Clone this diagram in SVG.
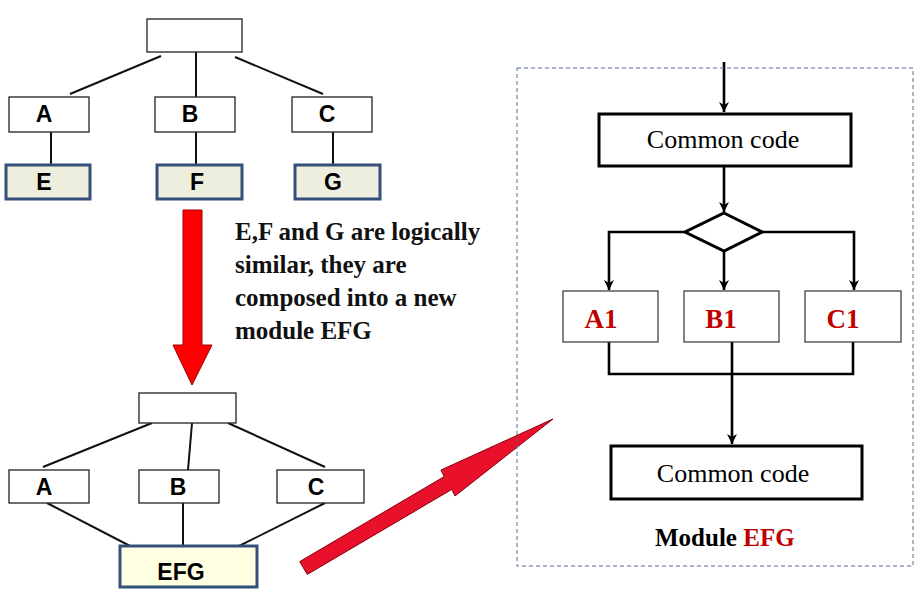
<svg xmlns="http://www.w3.org/2000/svg" width="915" height="594" viewBox="0 0 915 594">
<defs>
<style>
.box{fill:#fff;stroke:#222;stroke-width:1.3}
.mod{fill:#EEEEDF;stroke:#34507A;stroke-width:3}
.efg{fill:#FFFFE2;stroke:#34507A;stroke-width:3}
.fb{fill:#fff;stroke:#000;stroke-width:3}
.sb{fill:#fff;stroke:#333;stroke-width:1.2}
.ln{stroke:#111;stroke-width:2;fill:none}
.fl{stroke:#000;stroke-width:2.6;fill:none}
.sans{font-family:"Liberation Sans",Arial,sans-serif;font-weight:bold;font-size:23px;fill:#000;text-anchor:middle}
.serb{font-family:"Liberation Serif","Times New Roman",serif;font-weight:bold}
.ser{font-family:"Liberation Serif","Times New Roman",serif;font-size:26px;fill:#000;text-anchor:middle}
.red{fill:#C00000}
</style>
<marker id="ah" viewBox="0 0 10 12" refX="10" refY="6" markerWidth="10" markerHeight="12" markerUnits="userSpaceOnUse" orient="auto">
<path d="M0,1 L10,6 L0,11 L3,6 z" fill="#000"/>
</marker>
</defs>
<rect width="915" height="594" fill="#fff"/>

<g id="connectors">
<line class="ln" x1="161" y1="56" x2="70" y2="94"/>
<line class="ln" x1="196" y1="52" x2="196" y2="97"/>
<line class="ln" x1="235" y1="57" x2="323" y2="94"/>
<line class="ln" x1="51" y1="132" x2="51" y2="164"/>
<line class="ln" x1="196" y1="132" x2="196" y2="164"/>
<line class="ln" x1="333" y1="132" x2="333" y2="164"/>
<line class="ln" x1="152" y1="423" x2="43" y2="467"/>
<line class="ln" x1="192" y1="423" x2="188" y2="470"/>
<line class="ln" x1="228" y1="423" x2="325" y2="467"/>
<line class="ln" x1="47" y1="503" x2="132" y2="547"/>
<line class="ln" x1="183" y1="503" x2="183" y2="545"/>
<line class="ln" x1="325" y1="503" x2="237" y2="547"/>
<line class="fl" x1="724" y1="62" x2="724" y2="112" marker-end="url(#ah)"/>
<line class="fl" x1="724" y1="166" x2="724" y2="212" marker-end="url(#ah)"/>
<polyline class="fl" points="685,232 609,232 609,290" marker-end="url(#ah)"/>
<line class="fl" x1="724" y1="251" x2="724" y2="290" marker-end="url(#ah)"/>
<polyline class="fl" points="762,232 854,232 854,290" marker-end="url(#ah)"/>
<polyline class="fl" points="609,342 609,374 853,374 853,342"/>
<line class="fl" x1="732" y1="342" x2="732" y2="444" marker-end="url(#ah)"/>
</g>

<g id="top-root"><rect class="box" x="147" y="19" width="95" height="33"/></g>
<g id="top-A"><rect class="box" x="9" y="97" width="80" height="35"/><text class="sans" x="44" y="122">A</text></g>
<g id="top-B"><rect class="box" x="155" y="97" width="80" height="35"/><text class="sans" x="190" y="122">B</text></g>
<g id="top-C"><rect class="box" x="292" y="97" width="80" height="35"/><text class="sans" x="327" y="122">C</text></g>
<g id="top-E"><rect class="mod" x="6" y="165" width="84" height="34"/><text class="sans" x="44" y="190">E</text></g>
<g id="top-F"><rect class="mod" x="157" y="165" width="85" height="34"/><text class="sans" x="197" y="190">F</text></g>
<g id="top-G"><rect class="mod" x="295" y="165" width="85" height="34"/><text class="sans" x="333" y="190">G</text></g>

<g id="down-arrow">
<polygon points="183,210 202,210 202,345 212,345 192,385 173,345 183,345" fill="#FF0000" stroke="#A00000" stroke-width="1"/>
</g>

<g id="note" class="serb" font-size="25" fill="#111">
<text x="235" y="240">E,F and G are logically</text>
<text x="235" y="273">similar, they are</text>
<text x="235" y="306">composed into a new</text>
<text x="235" y="339">module EFG</text>
</g>

<g id="bot-root"><rect class="box" x="139" y="393" width="97" height="30"/></g>
<g id="bot-A"><rect class="box" x="9" y="470" width="80" height="33"/><text class="sans" x="44" y="495">A</text></g>
<g id="bot-B"><rect class="box" x="139" y="470" width="80" height="33"/><text class="sans" x="178" y="495">B</text></g>
<g id="bot-C"><rect class="box" x="277" y="470" width="87" height="33"/><text class="sans" x="316" y="495">C</text></g>
<g id="bot-EFG"><rect class="efg" x="120" y="546" width="137" height="41"/><text class="sans" x="181" y="580">EFG</text></g>

<g id="diag-arrow">
<polygon points="299.7,561.6 444.2,476.6 441,470 553,419 455,496 451.8,489.4 307.3,574.4" fill="#E8102A" stroke="#8B0010" stroke-width="1"/>
</g>

<g id="module-frame">
<rect x="517" y="68" width="396" height="498" fill="none" stroke="#5A6E94" stroke-width="1" stroke-dasharray="4,3"/>
</g>

<g id="common1"><rect class="fb" x="599" y="114" width="252" height="52"/><text class="ser" x="723" y="148">Common code</text></g>
<g id="decision"><polygon points="724,213 762,232 724,251 685,232" fill="#fff" stroke="#000" stroke-width="3"/></g>
<g id="A1"><rect class="sb" x="563" y="291" width="95" height="51"/><text class="serb red" font-size="27" text-anchor="middle" x="601" y="328">A1</text></g>
<g id="B1"><rect class="sb" x="684" y="291" width="95" height="51"/><text class="serb red" font-size="27" text-anchor="middle" x="721" y="328">B1</text></g>
<g id="C1"><rect class="sb" x="805" y="291" width="96" height="51"/><text class="serb red" font-size="27" text-anchor="middle" x="843" y="328">C1</text></g>
<g id="common2"><rect class="fb" x="611" y="446" width="251" height="53"/><text class="ser" x="733" y="482">Common code</text></g>
<g id="module-label"><text class="serb" font-size="25" x="655" y="546">Module <tspan class="red">EFG</tspan></text></g>
</svg>
